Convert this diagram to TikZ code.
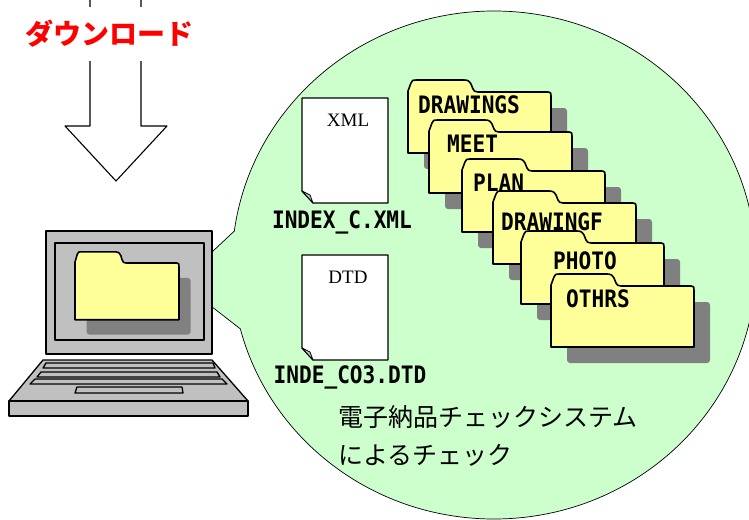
\documentclass[tikz,border=0pt]{standalone}
\usepackage{fontspec}
\usepackage{tikz}

\newfontfamily\jpfont{Noto Sans CJK JP}
\newfontfamily\lblfont[FakeStretch=0.88]{DejaVu Sans Mono}
\newfontfamily\typefont{Liberation Serif}

\definecolor{bubblegreen}{HTML}{CCFFCC}
\definecolor{folderyellow}{HTML}{FFFF99}
\definecolor{shadowgray}{HTML}{808080}
\definecolor{casegray}{HTML}{C0C0C0}

\tikzset{
	outline/.style={draw=black, line width=1.3pt, line join=round},
	folderline/.style={draw=black, fill=folderyellow, line width=1.6pt, line join=round},
	foldername/.style={font=\lblfont\bfseries\fontsize{24}{24}\selectfont, anchor=west, inner sep=0pt},
	filename/.style={font=\lblfont\bfseries\fontsize{24}{24}\selectfont, inner sep=0pt},
	typename/.style={font=\typefont\fontsize{19}{19}\selectfont, inner sep=0pt},
	checktext/.style={font=\jpfont\fontsize{25}{25}\selectfont, anchor=west, inner sep=0pt},
}

% folder with drop shadow, #2 = top left corner of the body
\newcommand{\folder}[2][]{%
	\begin{scope}[shift={(#2)},#1]
		\fill[shadowgray, rounded corners=3] (16,16) rectangle (159,77);
		\draw[folderline] (0,61) -- (0,-1) -- (3,-9) .. controls (4,-12) and (5,-12) .. (8,-12) -- (56,-12) .. controls (60,-12) and (61,-11) .. (63,-8) -- (65,-3) .. controls (66,-1) and (67,0) .. (70,0) -- (140,0) .. controls (143,0) and (143,1) .. (143,4) -- (143,61) -- cycle;
	\end{scope}}

% sheet of paper with a turned corner, #1 = top left corner
\newcommand{\sheet}[1]{%
	\begin{scope}[shift={(#1)}]
		\draw[outline, fill=white] (0,0) -- (86,0) -- (86,105) -- (11,105) -- (0,93) -- cycle;
		\draw[outline, fill=casegray, line width=0.8pt] (0,93) -- (8,97) -- (11,105) -- cycle;
	\end{scope}}

\begin{document}
\begin{tikzpicture}[x=1pt, y=-1pt]
	\useasboundingbox (0,0) rectangle (749,519);

	%%%%% DOWNLOAD ARROW %%%%%
	\draw[outline, line width=1.1pt, fill=white] (90,-5) -- (90,126) -- (65,126) -- (116,181) -- (167,126) -- (141,126) -- (141,-5);
	\node[font=\jpfont\bfseries\fontsize{28}{28}\selectfont, text=red, fill=white, minimum height=54, inner xsep=2] (dl) at (109,34) {ダウンロード};

	%%%%% CALLOUT %%%%%
	\draw[fill=bubblegreen, line width=0.7pt] (494,265) ellipse [x radius=262, y radius=254];
	\coordinate (tip) at (180,282);
	\coordinate (wedgeup) at (234.4,231);
	\coordinate (wedgelow) at (240.5,329);
	\fill[bubblegreen] (tip) -- (wedgeup) -- (262,280) -- (wedgelow) -- cycle;
	\draw[line width=0.7pt] (wedgeup) -- (tip) -- (wedgelow);

	%%%%% LAPTOP %%%%%
	\draw[outline, fill=casegray] (46,231) rectangle (212,354);
	\draw[outline, fill=casegray] (55,243) rectangle (204,340);
	\folder[xscale=0.727, yscale=0.93]{75,263}

	\draw[outline, fill=casegray] (43,360) -- (212,360) -- (248,401) -- (9,401) -- cycle;
	\draw[outline, fill=casegray] (9,401) rectangle (248,416);
	\draw[outline, fill=casegray] (46,363) -- (213,363) -- (215,368) -- (43,368) -- cycle;
	\draw[outline, fill=casegray] (41,372) -- (217,372) -- (220,377) -- (37,377) -- cycle;
	\draw[outline, fill=casegray] (35,379) -- (222,379) -- (227,384) -- (30,384) -- cycle;
	\draw[outline, fill=casegray] (77,387) -- (182,387) -- (183,393) -- (75,393) -- cycle;

	%%%%% XML / DTD FILES %%%%%
	\sheet{302,98}
	\node[typename] (xmltype) at (348,120) {XML};
	\node[filename] (xmlfile) at (342,222) {INDEX\_C.XML};

	\sheet{302,255}
	\node[typename] (dtdtype) at (348,277) {DTD};
	\node[filename] (dtdfile) at (350,377) {INDE\_CO3.DTD};

	%%%%% FOLDERS %%%%%
	\folder{408,92}
	\node[foldername] (drawings) at (418,105) {DRAWINGS};
	\folder{429,132}
	\node[foldername] (meet) at (447,144) {MEET};
	\folder{462,171}
	\node[foldername] (plan) at (473,183) {PLAN};
	\folder{493,203}
	\node[foldername] (drawingf) at (501,222) {DRAWINGF};
	\folder{521,243}
	\node[foldername] (photo) at (553,261) {PHOTO};
	\folder{551,286}
	\node[foldername] (othrs) at (566,299) {OTHRS};

	%%%%% CHECK SYSTEM %%%%%
	\node[checktext] (chk1) at (338,417) {電子納品チェックシステム};
	\node[checktext] (chk2) at (338,455) {によるチェック};
\end{tikzpicture}
\end{document}
